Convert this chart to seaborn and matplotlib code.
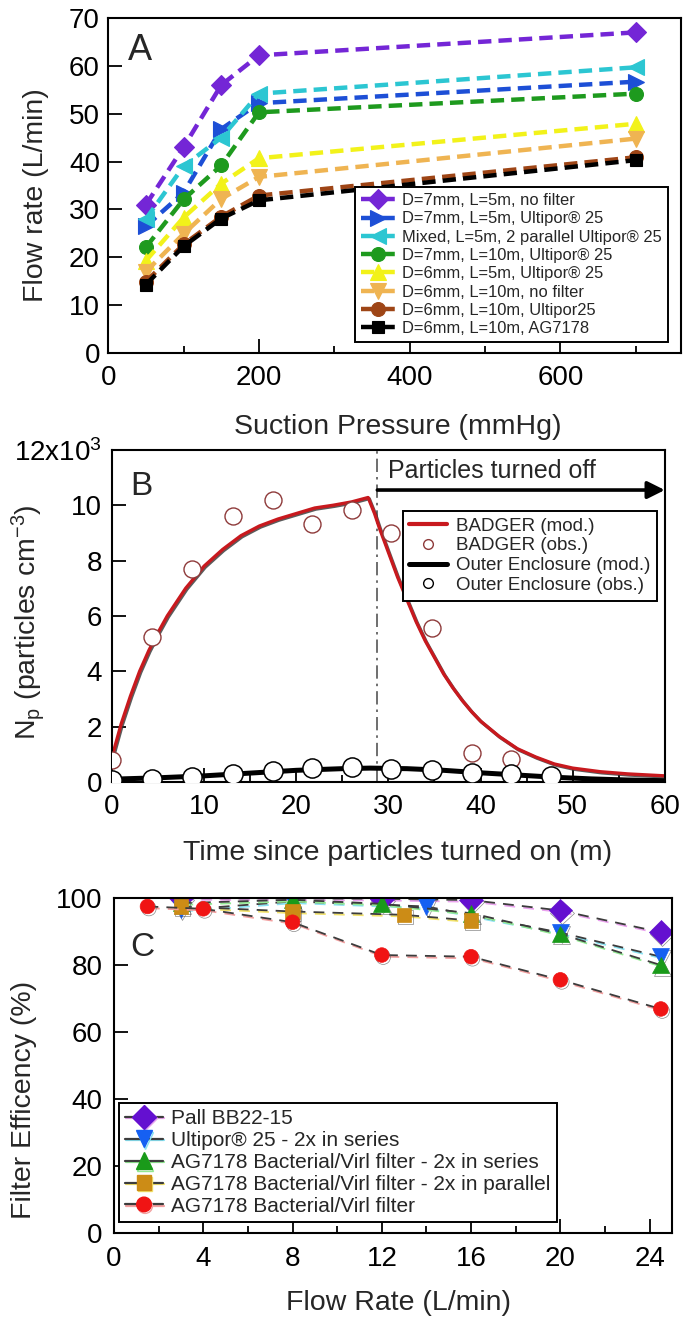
import numpy as np
import pandas as pd
import matplotlib
matplotlib.use("Agg")
import matplotlib.pyplot as plt
import matplotlib.patheffects as pe
from matplotlib.lines import Line2D
from matplotlib.ticker import MultipleLocator, FixedLocator, FixedFormatter
import seaborn as sns

# ---------------- Panel A data ----------------
pressure = [50, 100, 150, 200, 700]
a_labels = ["D=7mm, L=5m, no filter",
            "D=7mm, L=5m, Ultipor\u00ae 25",
            "Mixed, L=5m, 2 parallel Ultipor\u00ae 25",
            "D=7mm, L=10m, Ultipor\u00ae 25",
            "D=6mm, L=5m, Ultipor\u00ae 25",
            "D=6mm, L=10m, no filter",
            "D=6mm, L=10m, Ultipor25",
            "D=6mm, L=10m, AG7178"]
a_d7_l5_nofilter = [31.0, 43.0, 56.0, 62.2, 67.0]
a_d7_l5_ultipor = [26.5, 33.5, 46.8, 52.2, 56.7]
a_mixed_parallel = [28.0, 39.0, 45.0, 54.2, 59.7]
a_d7_l10_ultipor = [22.1, 32.1, 39.2, 50.3, 54.2]
a_d6_l5_ultipor = [19.3, 28.3, 35.4, 40.7, 47.9]
a_d6_l10_nofilter = [17.0, 24.9, 32.2, 36.8, 44.8]
a_d6_l10_ultipor = [14.9, 22.7, 28.5, 32.9, 40.9]
a_d6_l10_ag7178 = [14.3, 22.3, 28.1, 31.9, 40.3]
a_series = [a_d7_l5_nofilter, a_d7_l5_ultipor, a_mixed_parallel, a_d7_l10_ultipor,
            a_d6_l5_ultipor, a_d6_l10_nofilter, a_d6_l10_ultipor, a_d6_l10_ag7178]
a_colors = ["#7426D6", "#1D4FD6", "#2CC6D2", "#1E9A1E", "#F2F21A", "#EFB452", "#9E4516", "#000000"]
a_markers = ["D", ">", "<", "o", "^", "v", "o", "s"]
a_msize = [10, 11, 12, 10, 11, 11, 10, 8.5]

# ---------------- Panel B data ----------------
badger_obs_t = [0, 4.3, 8.7, 13.1, 17.5, 21.7, 26.0, 30.3, 34.7, 39.1, 43.3]
badger_obs_n = [0.81, 5.24, 7.71, 9.6, 10.2, 9.34, 9.82, 8.98, 5.58, 1.05, 0.82]
outer_obs_t = [0, 4.3, 8.7, 13.1, 17.5, 21.7, 26.0, 30.3, 34.7, 39.1, 43.3, 47.6]
outer_obs_n = [0.08, 0.12, 0.18, 0.28, 0.39, 0.52, 0.54, 0.48, 0.42, 0.34, 0.28, 0.2]
badger_mod_t = [0, 1, 2, 3, 4, 5, 6, 7, 8, 10, 12, 14, 16, 18, 20, 22, 24, 26, 27.8,
                28.5, 29, 30, 31, 32, 33, 34, 35, 36, 37, 38, 39, 40, 42, 44, 46, 48,
                50, 53, 56, 60]
badger_mod_n = [0.9, 2.1, 3.1, 4.0, 4.75, 5.4, 6.0, 6.5, 7.0, 7.8, 8.4, 8.9, 9.25, 9.5,
                9.7, 9.9, 10.0, 10.12, 10.28,
                9.7, 9.2, 8.3, 7.4, 6.6, 5.8, 5.1, 4.5, 3.9, 3.4, 2.95, 2.55, 2.2,
                1.65, 1.2, 0.9, 0.65, 0.5, 0.37, 0.29, 0.22]
outer_mod_t = [0, 5, 10, 15, 20, 25, 28, 32, 36, 40, 44, 48, 52, 56, 60]
outer_mod_n = [0.1, 0.15, 0.22, 0.32, 0.42, 0.48, 0.5, 0.48, 0.42, 0.33, 0.25, 0.17,
               0.11, 0.07, 0.05]
b_yticklabels = ["0", "2", "4", "6", "8", "10", "12x10$^{3}$"]

# ---------------- Panel C data ----------------
c_labels = ["Pall BB22-15",
            "Ultipor\u00ae 25 - 2x in series",
            "AG7178 Bacterial/Virl filter - 2x in series",
            "AG7178 Bacterial/Virl filter - 2x in parallel",
            "AG7178 Bacterial/Virl filter"]
pall_x = [3, 12, 16, 20, 24.5]
pall_y = [100.0, 99.8, 99.4, 96.3, 89.8]
ultipor_x = [3, 8, 14, 20, 24.5]
ultipor_y = [96.5, 99.0, 97.5, 89.7, 82.5]
ag_series_x = [3, 8, 12, 16, 20, 24.5]
ag_series_y = [98.5, 99.5, 98.3, 95.5, 89.3, 80.0]
ag_parallel_x = [3, 8, 13, 16]
ag_parallel_y = [97.5, 96.0, 95.0, 93.3]
ag_single_x = [1.5, 4, 8, 12, 16, 20, 24.5]
ag_single_y = [97.5, 96.8, 92.8, 83.0, 82.5, 75.6, 66.9]
c_x = [pall_x, ultipor_x, ag_series_x, ag_parallel_x, ag_single_x]
c_y = [pall_y, ultipor_y, ag_series_y, ag_parallel_y, ag_single_y]
c_colors = ["#6410D0", "#1660F2", "#1A9A1A", "#CC8C16", "#F01414"]
c_shadow = ["#EAA2EE", "#88E2F2", "#92E892", "#F2E26A", "#F2A0A0"]
c_markers = ["D", "v", "^", "s", "o"]
c_msize = [12, 12, 12, 10.5, 10.5]

# ---------------- style ----------------
sns.set_theme(style="ticks")
plt.rcParams["font.family"] = ["Liberation Sans", "DejaVu Sans"]
plt.rcParams["mathtext.fontset"] = "custom"
plt.rcParams["mathtext.rm"] = "Liberation Sans"
plt.rcParams["mathtext.it"] = "Liberation Sans:italic"
plt.rcParams["axes.edgecolor"] = "black"
plt.rcParams["axes.linewidth"] = 1.5

TICK = 20
LAB = 20.5

fig = plt.figure(figsize=(6.85, 13.26), dpi=100)
axA = fig.add_axes([0.158, 0.7338, 0.836, 0.2526])
axB = fig.add_axes([0.1635, 0.4103, 0.807, 0.2504])
axC = fig.add_axes([0.1664, 0.0701, 0.8146, 0.2526])


def style_axis(ax, ypad):
    ax.tick_params(which="both", direction="in", top=False, right=False,
                   colors="black", width=1.3)
    ax.tick_params(which="major", length=10, labelsize=TICK)
    ax.tick_params(which="minor", length=5)
    ax.tick_params(axis="x", pad=9)
    ax.tick_params(axis="y", pad=ypad)
    for s in ax.spines.values():
        s.set_visible(True)
        s.set_color("black")
        s.set_linewidth(1.5)


# ---------------- Panel A ----------------
for lab, vals, col, mk, ms in zip(a_labels, a_series, a_colors, a_markers, a_msize):
    sns.lineplot(x=pressure, y=vals, ax=axA, color=col, marker=mk, markersize=ms,
                 markeredgecolor=col, markeredgewidth=0.8, linewidth=3.2,
                 linestyle=(0, (3.0, 1.6)), label=lab, estimator=None, sort=False)
axA.set_xlim(0, 760)
axA.set_ylim(0, 70)
axA.xaxis.set_major_locator(FixedLocator([0, 200, 400, 600]))
axA.xaxis.set_minor_locator(MultipleLocator(100))
axA.yaxis.set_major_locator(MultipleLocator(10))
style_axis(axA, 6)
axA.set_xlabel("Suction Pressure (mmHg)", fontsize=LAB)
axA.set_ylabel("Flow rate (L/min)", fontsize=LAB)
axA.xaxis.set_label_coords(0.506, -0.221)
axA.xaxis.label.set_va("center")
axA.yaxis.set_label_coords(-0.127, 0.472)
axA.yaxis.label.set_va("center")
axA.text(0.035, 0.955, "A", transform=axA.transAxes, fontsize=26, va="top", ha="left")
h, l = axA.get_legend_handles_labels()
legA = axA.legend(h, l, loc="lower right", bbox_to_anchor=(0.977, 0.033),
                  fontsize=11.9, frameon=True, fancybox=False, framealpha=1,
                  edgecolor="black", labelspacing=0.2, handlelength=2.1,
                  handletextpad=0.4, borderpad=0.35, borderaxespad=0)
legA.get_frame().set_linewidth(1.4)

# ---------------- Panel B ----------------
sns.lineplot(x=outer_mod_t, y=outer_mod_n, ax=axB, color="black", linewidth=3.6,
             estimator=None, sort=False)
sns.lineplot(x=badger_mod_t, y=badger_mod_n, ax=axB, color="#C8191E", linewidth=2.4,
             estimator=None, sort=False,
             path_effects=[pe.SimpleLineShadow(offset=(0.8, -0.8), shadow_color="#333333", alpha=0.8),
                           pe.Normal()])
axB.axvline(28.8, color="#555555", linewidth=1.2, linestyle=(0, (8, 3, 1.5, 3)), zorder=1)
sns.scatterplot(x=badger_obs_t, y=badger_obs_n, ax=axB, marker="o", s=150,
                facecolor="white", edgecolor="#8E3A3A", linewidth=1.0, zorder=4)
sns.scatterplot(x=outer_obs_t, y=outer_obs_n, ax=axB, marker="o", s=190,
                facecolor="white", edgecolor="black", linewidth=1.1, zorder=4)
axB.annotate("", xy=(60, 10.55), xytext=(28.8, 10.55),
             arrowprops=dict(arrowstyle="-|>", color="black", lw=2.6,
                             mutation_scale=26, shrinkA=0, shrinkB=0))
axB.text(30.0, 11.25, "Particles turned off", fontsize=18, va="center", ha="left")
axB.set_xlim(0, 60)
axB.set_ylim(0, 12)
axB.xaxis.set_major_locator(MultipleLocator(10))
axB.xaxis.set_minor_locator(MultipleLocator(5))
axB.yaxis.set_major_locator(FixedLocator([0, 2, 4, 6, 8, 10, 12]))
axB.yaxis.set_major_formatter(FixedFormatter(b_yticklabels))
style_axis(axB, 7)
axB.set_xlabel("Time since particles turned on (m)", fontsize=LAB)
axB.set_ylabel("N$_\\mathrm{p}$ (particles cm$^{-3}$)", fontsize=LAB)
axB.xaxis.set_label_coords(0.517, -0.214)
axB.xaxis.label.set_va("center")
axB.yaxis.set_label_coords(-0.152, 0.482)
axB.yaxis.label.set_va("center")
axB.text(0.033, 0.935, "B", transform=axB.transAxes, fontsize=24, va="top", ha="left")
b_handles = [
    Line2D([], [], color="#C8191E", lw=3.0),
    Line2D([], [], color="none", marker="o", markersize=7, markerfacecolor="white",
           markeredgecolor="#8E3A3A", markeredgewidth=1.0),
    Line2D([], [], color="black", lw=3.6),
    Line2D([], [], color="none", marker="o", markersize=7, markerfacecolor="white",
           markeredgecolor="black", markeredgewidth=1.0),
]
b_labels = ["BADGER (mod.)", "BADGER (obs.)", "Outer Enclosure (mod.)", "Outer Enclosure (obs.)"]
legB = axB.legend(b_handles, b_labels, loc="upper right", bbox_to_anchor=(0.986, 0.816),
                  fontsize=13.5, frameon=True, fancybox=False, framealpha=1,
                  edgecolor="black", labelspacing=0.14, handlelength=2.0,
                  handletextpad=0.5, borderpad=0.35, borderaxespad=0)
legB.get_frame().set_linewidth(1.4)

# ---------------- Panel C ----------------
for lab, xs, ys, col, sh, mk, ms in zip(c_labels, c_x, c_y, c_colors, c_shadow, c_markers, c_msize):
    sns.lineplot(x=xs, y=ys, ax=axC, color="#3C3C3C", linewidth=1.3,
                 linestyle=(0, (6, 4.5)), estimator=None, sort=False,
                 path_effects=[pe.SimpleLineShadow(offset=(1.0, -1.2), shadow_color=sh, alpha=1.0),
                               pe.Normal()])
    sns.lineplot(x=xs, y=ys, ax=axC, color=col, linestyle="none", marker=mk, markersize=ms,
                 markeredgecolor=col, markeredgewidth=0.5, estimator=None, sort=False,
                 path_effects=[pe.SimpleLineShadow(offset=(1.0, -1.5), shadow_color="#555555", alpha=0.7),
                               pe.Normal()])
axC.set_xlim(0, 25)
axC.set_ylim(0, 100)
axC.xaxis.set_major_locator(MultipleLocator(4))
axC.xaxis.set_minor_locator(MultipleLocator(2))
axC.yaxis.set_major_locator(MultipleLocator(20))
style_axis(axC, 8)
axC.set_xlabel("Flow Rate (L/min)", fontsize=LAB)
axC.set_ylabel("Filter Efficency (%)", fontsize=LAB)
axC.xaxis.set_label_coords(0.509, -0.209)
axC.xaxis.label.set_va("center")
axC.yaxis.set_label_coords(-0.161, 0.397)
axC.yaxis.label.set_va("center")
axC.text(0.029, 0.9, "C", transform=axC.transAxes, fontsize=24, va="top", ha="left")
c_handles = [Line2D([], [], color="#3C3C3C", lw=1.6, marker=mk, markersize=ms,
                    markerfacecolor=col, markeredgecolor=col,
                    path_effects=[pe.SimpleLineShadow(offset=(0.8, -1.2), shadow_color=sh, alpha=1.0),
                                  pe.Normal()])
             for col, sh, mk, ms in zip(c_colors, c_shadow, c_markers, c_msize)]
legC = axC.legend(c_handles, c_labels, loc="lower left", bbox_to_anchor=(0.009, 0.033),
                  fontsize=15, frameon=True, fancybox=False, framealpha=1,
                  edgecolor="black", labelspacing=0.14, handlelength=1.8,
                  handletextpad=0.4, borderpad=0.3, borderaxespad=0)
legC.get_frame().set_linewidth(1.4)

fig.savefig("out.png", dpi=100)
